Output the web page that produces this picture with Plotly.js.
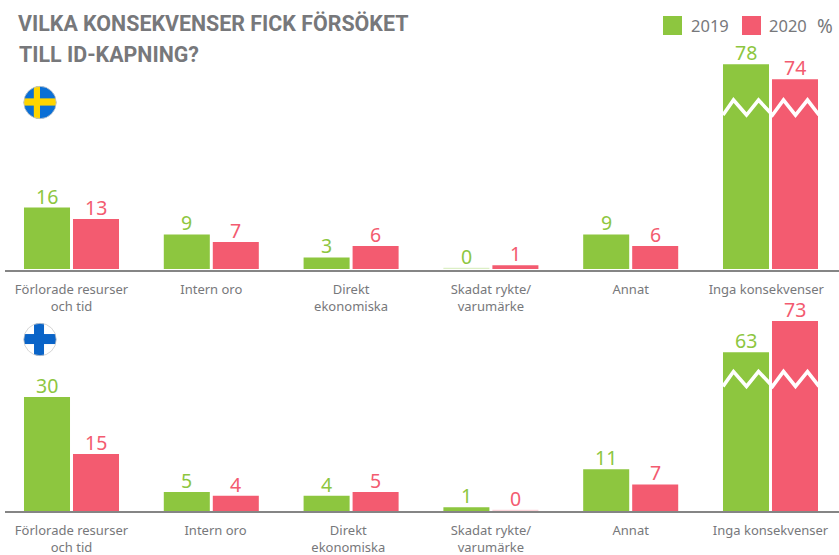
<!DOCTYPE html>
<html>
<head>
<meta charset="utf-8">
<script src="https://cdn.plot.ly/plotly-3.0.1.min.js"></script>
<style>html,body{margin:0;padding:0;background:#fff}#chart{width:839px;height:555px}</style>
</head>
<body>
<div id="chart"></div>
<script>
// Data
const categories = ["Förlorade resurser<br>och tid", "Intern oro", "Direkt<br>ekonomiska", "Skadat rykte/<br>varumärke", "Annat", "Inga konsekvenser"];
const years = ["2019", "2020"];
const sweden2019 = [16, 9, 3, 0, 9, 78];
const sweden2020 = [13, 7, 6, 1, 6, 74];
const finland2019 = [30, 5, 4, 1, 11, 63];
const finland2020 = [15, 4, 5, 0, 7, 73];
// Heights of the last pair on the truncated (zigzag-broken) scale
const swedenBroken = [53.3, 49.4];
const finlandBroken = [41.8, 50];
const titleLines = ["VILKA KONSEKVENSER FICK FÖRSÖKET", "TILL ID-KAPNING?"];

const GREEN = "#8dc63f", PINK = "#f35b70", GREY = "#77787b", AXIS = "#858585";
const W = 839, H = 555, PX_X = 139.8, X0 = 71.5;
const xIdx = categories.map((_, i) => i);
const xRange = [(0 - X0) / PX_X, (W - X0) / PX_X];
const fontBody = "'Noto Sans', sans-serif";
const fontTitle = "Roboto, Lato, sans-serif";

function drawn(values, brokenHeight) {
  return values.map((v, i) => i === values.length - 1 ? brokenHeight : (v === 0 ? 0.3 : v));
}
function colours(values, solid, pale) {
  return values.map(v => v === 0 ? pale : solid);
}
function series(name, values, broken, solid, pale, xa, ya) {
  return {
    type: "bar", name, x: xIdx, y: drawn(values, broken), xaxis: xa, yaxis: ya,
    marker: {color: colours(values, solid, pale), line: {width: 0}},
    showlegend: false, hoverinfo: "skip"
  };
}
const data = [
  series(years[0], sweden2019, swedenBroken[0], GREEN, "#dcefc5", "x", "y"),
  series(years[1], sweden2020, swedenBroken[1], PINK, "#fbd3d9", "x", "y"),
  series(years[0], finland2019, finlandBroken[0], GREEN, "#dcefc5", "x2", "y2"),
  series(years[1], finland2020, finlandBroken[1], PINK, "#fbd3d9", "x2", "y2")
];

// Value labels sit just above each bar, anchored to the bar's own data position
function valueLabels(values, broken, color, side, xa, ya) {
  const heights = drawn(values, broken);
  return values.map((v, i) => ({
    text: String(v), xref: xa, yref: ya, x: i, y: heights[i], xanchor: "center", yanchor: "bottom",
    xshift: side * 24.5, yshift: -3, showarrow: false, borderpad: 0,
    font: {family: fontBody, size: 19.5, color}
  }));
}

function zigzag(xref, yref, valley, peak) {
  const offs = [-48, -37.5, -24.5, -12.5, 1.5, 12.5, 24.5, 36.5, 48];
  const c = 5 + (771 - X0 - 5 * PX_X) / PX_X;
  const pts = offs.map((o, i) => (c + o / PX_X).toFixed(4) + "," + (i % 2 ? peak : valley));
  return {type: "path", xref, yref, path: "M" + pts.join(" L"), line: {color: "#fff", width: 3.6}, layer: "above"};
}
function pxRect(x0, x1, y0, y1, color) {
  return {type: "rect", xref: "paper", yref: "paper", x0: x0 / W, x1: x1 / W, y0: 1 - y1 / H, y1: 1 - y0 / H,
          fillcolor: color, line: {width: 0}};
}
function note(text, x, y, opts) {
  return Object.assign({text, xref: "paper", yref: "paper", x: x / W, y: 1 - y / H, xanchor: "left", yanchor: "middle",
    showarrow: false, borderpad: 0, font: {family: fontBody, size: 16.5, color: GREY}}, opts || {});
}
function flag(bg, cross, ring, vx, vw, hy, hh) {
  const svg = `<svg xmlns="http://www.w3.org/2000/svg" width="66" height="66" viewBox="0 0 66 66"><defs><clipPath id="c"><circle cx="33" cy="33" r="31.5"/></clipPath></defs><g clip-path="url(#c)"><rect width="66" height="66" fill="${bg}"/><rect x="${vx}" width="${vw}" height="66" fill="${cross}"/><rect y="${hy}" width="66" height="${hh}" fill="${cross}"/></g><circle cx="33" cy="33" r="31.5" fill="none" stroke="${ring}" stroke-width="1.5"/></svg>`;
  return "data:image/svg+xml;base64," + btoa(svg);
}
function flagImage(src, cx, cy) {
  return {source: src, xref: "paper", yref: "paper", x: (cx - 17) / W, y: 1 - (cy - 17) / H, sizex: 34 / W, sizey: 34 / H,
          xanchor: "left", yanchor: "top", sizing: "stretch", layer: "above"};
}
function xAxisCfg(anchor, tickPos) {
  return {anchor, domain: [5 / W, 1], range: [(5 - X0) / PX_X, xRange[1]], tickmode: "array", tickvals: tickPos, ticktext: categories,
    showgrid: false, zeroline: false, showline: true, linecolor: AXIS, linewidth: 1.5, ticks: "", ticklen: 0, ticklabelstandoff: 7,
    tickfont: {family: fontBody, size: 13, color: GREY}, tickangle: 0, fixedrange: true, automargin: false};
}
// The axis line sits just under the bars: the zero of the value scale is placed gapPx above the line
function yAxisCfg(anchor, bottom, top, pxPerUnit, gapPx) {
  return {anchor, domain: [1 - bottom / H, 1 - top / H], range: [-gapPx / pxPerUnit, (bottom - top - gapPx) / pxPerUnit], visible: false, fixedrange: true};
}

const layout = {
  width: W, height: H, margin: {l: 0, r: 0, t: 0, b: 0, pad: 0},
  paper_bgcolor: "#fff", plot_bgcolor: "rgba(0,0,0,0)",
  barmode: "group", bargap: 0.299, bargroupgap: 0.061, showlegend: false,
  title: {text: titleLines[0], x: 18 / W, xanchor: "left", xref: "paper", y: 1 - 24 / H, yanchor: "middle", yref: "paper",
          font: {family: fontTitle, size: 21.4, weight: 700, color: GREY}, pad: {t: 0, b: 0, l: 0, r: 0}},
  xaxis: xAxisCfg("y", [0, 1, 2, 3, 4, 4.97]),
  xaxis2: xAxisCfg("y2", [0, 1.03, 1.98, 3, 4, 5]),
  yaxis: yAxisCfg("x", 270, 40, 3.84, 1),
  yaxis2: yAxisCfg("x2", 511.25, 310, 3.8, 0.25),
  shapes: [
    zigzag("x", "y", 40.1, 44),
    zigzag("x2", "y2", 32.8, 36.7),
    pxRect(663, 682, 16, 35, GREEN),
    pxRect(742, 761, 16, 35, PINK)
  ],
  annotations: [
    note(titleLines[1], 17.5, 55, {font: {family: fontTitle, size: 21.4, weight: 700, color: GREY}}),
    note(years[0], 690, 26),
    note(years[1], 768, 26),
    note("%", 816, 26, {font: {family: fontBody, size: 19, color: GREY}}),
    ...valueLabels(sweden2019, swedenBroken[0], GREEN, -1, "x", "y"),
    ...valueLabels(sweden2020, swedenBroken[1], PINK, 1, "x", "y"),
    ...valueLabels(finland2019, finlandBroken[0], GREEN, -1, "x2", "y2"),
    ...valueLabels(finland2020, finlandBroken[1], PINK, 1, "x2", "y2")
  ],
  images: [
    flagImage(flag("#0a6fd6", "#ffd500", "#c8c8c8", 21, 12, 25, 14), 40, 102.5),
    flagImage(flag("#ffffff", "#0a64c8", "#c8c8c8", 21.4, 19.4, 22.4, 19.4), 40, 339.5)
  ]
};
Plotly.newPlot("chart", data, layout, {displayModeBar: false, staticPlot: true});
</script>
</body>
</html>
